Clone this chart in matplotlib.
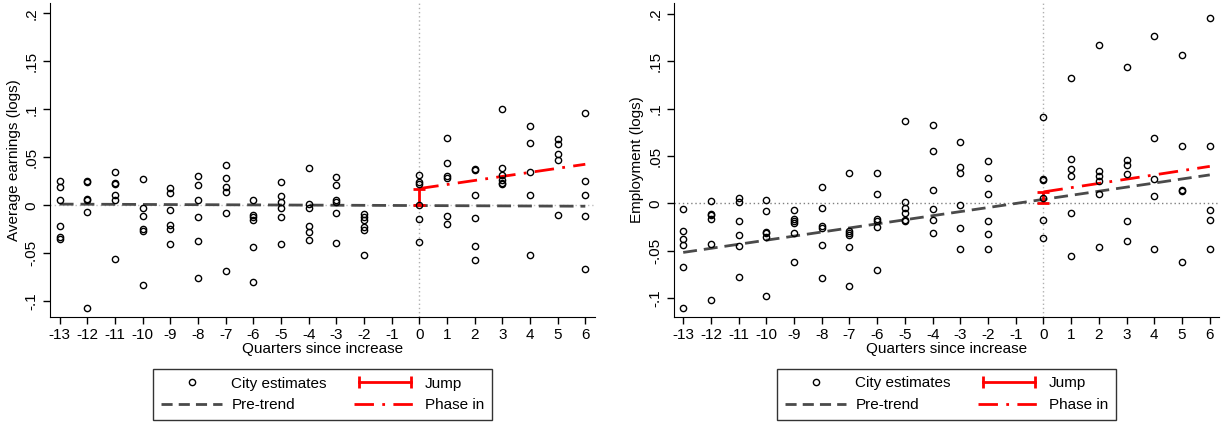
import numpy as np
import matplotlib
matplotlib.use("Agg")
import matplotlib.pyplot as plt
from matplotlib.legend_handler import HandlerLine2D

plt.rcParams['font.family'] = ['Liberation Sans', 'DejaVu Sans']
plt.rcParams['font.size'] = 11
plt.rcParams['axes.unicode_minus'] = False

quarters = [-13, -12, -11, -10, -9, -8, -7, -6, -5, -4, -3, -2, 0, 1, 2, 3, 4, 5, 6]

# city estimates, one list per quarter
earn_pts = [
    [0.025, 0.019, 0.006, -0.022, -0.033, -0.035],
    [0.025, 0.024, 0.007, 0.005, -0.007, -0.107],
    [0.035, 0.023, 0.022, 0.011, 0.006, -0.056],
    [0.027, -0.003, -0.011, -0.025, -0.027, -0.083],
    [0.018, 0.013, -0.005, -0.021, -0.025, -0.040],
    [0.030, 0.021, 0.006, -0.012, -0.037, -0.076],
    [0.042, 0.028, 0.019, 0.014, -0.008, -0.068],
    [0.005, -0.010, -0.0125, -0.015, -0.043, -0.080],
    [0.024, 0.010, 0.003, -0.003, -0.0125, -0.040],
    [0.039, 0.001, -0.003, -0.0215, -0.028, -0.036],
    [0.029, 0.0215, 0.0055, 0.003, -0.008, -0.039],
    [-0.009, -0.012, -0.015, -0.023, -0.026, -0.052],
    [0.032, 0.024, 0.022, 0.000, -0.014, -0.0385],
    [0.070, 0.044, 0.031, 0.028, -0.0115, -0.020],
    [0.0375, 0.037, 0.011, -0.0135, -0.042, -0.057],
    [0.1007, 0.0385, 0.0316, 0.0267, 0.0233, 0.0226],
    [0.0826, 0.0646, 0.0347, 0.011, -0.0517],
    [0.069, 0.064, 0.053, 0.0476, -0.010],
    [0.096, 0.025, 0.0104, -0.011, -0.066],
]

emp_pts = [
    [-0.0063, -0.0296, -0.0373, -0.0444, -0.0673, -0.111],
    [0.0025, -0.011, -0.0127, -0.0162, -0.0433, -0.1025],
    [0.006, 0.0018, -0.0183, -0.0335, -0.0454, -0.0778],
    [0.003, -0.0077, -0.0303, -0.0317, -0.0352, -0.0986],
    [-0.0074, -0.0165, -0.0183, -0.0204, -0.031, -0.0623],
    [0.0176, -0.0046, -0.0236, -0.0264, -0.0437, -0.0792],
    [0.0317, -0.0289, -0.031, -0.0331, -0.0461, -0.0873],
    [0.032, 0.0095, -0.017, -0.0183, -0.025, -0.0704],
    [0.0866, 0.0014, -0.0046, -0.0106, -0.018, -0.019],
    [0.0824, 0.0556, 0.0141, -0.0063, -0.018, -0.0313],
    [0.0651, 0.038, 0.0324, -0.0021, -0.0257, -0.0482],
    [0.0444, 0.0271, 0.0095, -0.019, -0.0327, -0.0479],
    [0.0915, 0.0257, 0.0246, 0.0056, -0.0173, -0.0363],
    [0.132, 0.0472, 0.0366, 0.0285, -0.0099, -0.0563],
    [0.1676, 0.0342, 0.0289, 0.0232, 0.0102, -0.0465],
    [0.144, 0.0454, 0.0408, 0.031, -0.0187, -0.0401],
    [0.1768, 0.0687, 0.0254, 0.0074, -0.0489],
    [0.157, 0.0606, 0.0141, 0.013, -0.062],
    [0.1954, 0.0602, -0.0074, -0.0176, -0.0482],
]

# fitted lines: pre-trend (start, end), jump at 0, phase-in end at 6
earn_pretrend = [0.0012, -0.001]
earn_jump = 0.0174
earn_phase_end = 0.0427
emp_pretrend = [-0.052, 0.030]
emp_jump = 0.012
emp_phase_end = 0.039

xticks = list(range(-13, 7))
yticks = [-0.1, -0.05, 0, 0.05, 0.1, 0.15, 0.2]
ytick_labels = ["-.1", "-.05", "0", ".05", ".1", ".15", ".2"]


def panel(ax, pts, pretrend, jump, phase_end, ylabel, ylim, zero_color):
    ax.axvline(0, color='#b0b0b0', ls=(0, (1, 2)), lw=1, zorder=1)
    ax.axhline(0, color=zero_color, ls=(0, (1, 2)), lw=1, zorder=1)
    xs = []
    ys = []
    for q, vals in zip(quarters, pts):
        xs += [q] * len(vals)
        ys += vals
    sc, = ax.plot(xs, ys, 'o', mfc='none', mec='black', ms=4.5, mew=1.0,
                  zorder=4)
    pt, = ax.plot([-13, 6], pretrend, color='#4a4a4a', lw=2, ls=(0, (5, 2.5)),
                  zorder=3)
    ph, = ax.plot([0, 6], [jump, phase_end], color='red', lw=2,
                  ls=(0, (7, 3, 1, 3)), zorder=3)
    ax.errorbar([0], [jump / 2], yerr=[[jump / 2], [jump / 2]], fmt='none',
                ecolor='red', elinewidth=2, capsize=4, capthick=2, zorder=3)
    # legend-only handles: jump as a capped line, shorter dashes for pre-trend
    jm = plt.Line2D([], [], color='red', lw=2, marker='|', ms=9, mew=2)
    pt_leg = plt.Line2D([], [], color='#4a4a4a', lw=2, ls=(0, (4, 2.2)))
    ax.set_xlim(-13.35, 6.35)
    ax.set_ylim(*ylim)
    ax.set_xticks(xticks)
    ax.set_yticks(yticks)
    ax.set_yticklabels(ytick_labels, rotation=90, va='center')
    ax.set_xlabel('Quarters since increase', labelpad=0)
    ax.set_ylabel(ylabel, labelpad=3)
    ax.spines['top'].set_visible(False)
    ax.spines['right'].set_visible(False)
    ax.tick_params(direction='out', length=5, width=1, pad=3)
    leg = ax.legend([sc, pt_leg, jm, ph],
                    ['City estimates', 'Pre-trend', 'Jump', 'Phase in'],
                    ncol=2, loc='upper center', bbox_to_anchor=(0.5, -0.165),
                    borderaxespad=0, frameon=True, fancybox=False,
                    edgecolor='black', handlelength=4.0, handletextpad=0.6,
                    columnspacing=1.8, labelspacing=0.5, borderpad=0.5,
                    numpoints=1, handler_map={jm: HandlerLine2D(numpoints=2)})
    leg.get_frame().set_linewidth(1)


fig = plt.figure(figsize=(12.25, 4.25), dpi=100)
ax1 = fig.add_axes([0.0408, 0.2534, 0.4449, 0.7396])
ax2 = fig.add_axes([0.5498, 0.2541, 0.4457, 0.7389])

panel(ax1, earn_pts, earn_pretrend, earn_jump, earn_phase_end,
      'Average earnings (logs)', (-0.1167, 0.2107), '#c0c0c0')
panel(ax2, emp_pts, emp_pretrend, emp_jump, emp_phase_end,
      'Employment (logs)', (-0.1203, 0.2118), '#808080')

fig.savefig('out.png', dpi=100)
